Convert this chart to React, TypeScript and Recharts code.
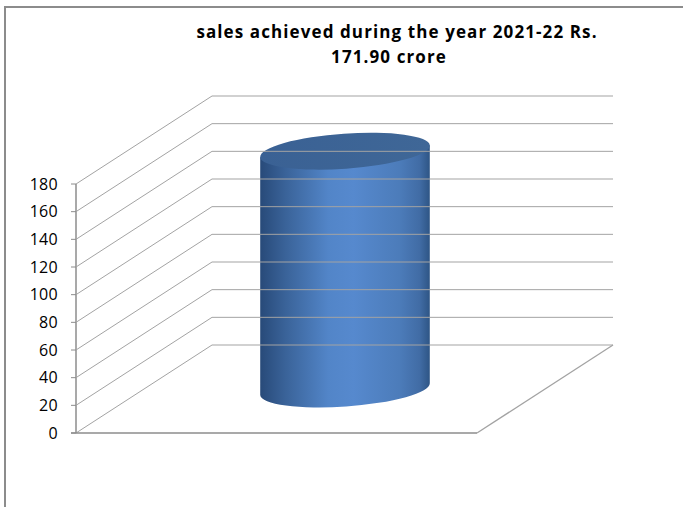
import React from "react";
import { BarChart, Bar, XAxis, YAxis } from "recharts";

const years = ["2021-22"];
const sales = [171.9];
const yTicks = [0, 20, 40, 60, 80, 100, 120, 140, 160, 180];
const titleLines = ["sales achieved during the year 2021-22 Rs.", "171.90 crore"];

const data = years.map((year, i) => ({ year, sales: sales[i] }));

// fake 3D: how far the back wall sits from the front plane
const PLOT_W = 401;
const DEPTH_X = 136;
const DEPTH_Y = -88;
const TILT = -4;
const GRID = "#a3a3a3";
const AXIS = "#8c8c8c";
const FONT = "'Open Sans', 'Liberation Sans', sans-serif";

function WallTick(props: any) {
  const { x, y, payload } = props;
  const ax = x + 18; // tickSize + tickMargin back to the axis line
  return (
    <g>
      <line x1={ax} y1={y} x2={ax + DEPTH_X} y2={y + DEPTH_Y} stroke={GRID} />
      <line
        x1={ax + DEPTH_X}
        y1={y + DEPTH_Y}
        x2={ax + DEPTH_X + PLOT_W}
        y2={y + DEPTH_Y}
        stroke={GRID}
      />
      {payload.value === 0 && (
        <>
          <line x1={ax - 5} y1={y} x2={ax + PLOT_W} y2={y} stroke={AXIS} strokeWidth={1.5} />
          <line
            x1={ax + PLOT_W}
            y1={y}
            x2={ax + PLOT_W + DEPTH_X}
            y2={y + DEPTH_Y}
            stroke={GRID}
            strokeWidth={1.3}
          />
        </>
      )}
      <text
        x={x}
        y={y}
        dy={5.5}
        textAnchor="end"
        fill="#000"
        fontSize={16}
        letterSpacing={0.3}
        fontFamily={FONT}
      >
        {payload.value}
      </text>
    </g>
  );
}

function Cylinder(props: any) {
  const { x, y, width, height } = props;
  const cx = x + width / 2 + DEPTH_X / 2;
  const rx = width / 2;
  const ry = 17.5;
  const topY = y + DEPTH_Y / 2;
  const botY = y + height + DEPTH_Y / 2;
  const t = (TILT * Math.PI) / 180;
  const ex = rx * Math.cos(t);
  const ey = rx * Math.sin(t);
  const side =
    `M ${cx - ex} ${topY - ey} L ${cx - ex} ${botY - ey} ` +
    `A ${rx} ${ry} ${TILT} 0 0 ${cx + ex} ${botY + ey} ` +
    `L ${cx + ex} ${topY + ey} Z`;
  return (
    <g>
      <defs>
        <linearGradient id="cylSide" x1="0" y1="0" x2="1" y2="0">
          <stop offset="0" stopColor="#284a79" />
          <stop offset="0.15" stopColor="#3a6399" />
          <stop offset="0.4" stopColor="#5285c8" />
          <stop offset="0.55" stopColor="#5689ce" />
          <stop offset="0.82" stopColor="#4c7cba" />
          <stop offset="0.94" stopColor="#416ca5" />
          <stop offset="1" stopColor="#2e5585" />
        </linearGradient>
        <linearGradient id="cylTop" x1="0" y1="0" x2="1" y2="0">
          <stop offset="0" stopColor="#3a6194" />
          <stop offset="1" stopColor="#3f6797" />
        </linearGradient>
      </defs>
      <path d={side} fill="url(#cylSide)" />
      <ellipse
        cx={cx}
        cy={topY}
        rx={rx}
        ry={ry}
        fill="url(#cylTop)"
        transform={`rotate(${TILT} ${cx} ${topY})`}
      />
    </g>
  );
}

const titleStyle: React.CSSProperties = {
  position: "absolute",
  width: 600,
  lineHeight: "22px",
  textAlign: "center",
  fontFamily: FONT,
  fontWeight: 700,
  fontSize: 17,
  letterSpacing: 1.1,
  color: "#000",
  whiteSpace: "nowrap",
};

export default function App() {
  return (
    <div style={{ position: "absolute", left: 0, top: 0, width: 683, height: 507, overflow: "hidden", background: "#fff" }}>
      <div
        style={{
          position: "absolute",
          left: 4,
          top: 6,
          width: 700,
          height: 520,
          borderLeft: "2px solid #8c8c8c",
          borderTop: "2px solid #8c8c8c",
        }}
      />
      <div style={{ ...titleStyle, left: 97, top: 21 }}>{titleLines[0]}</div>
      <div style={{ ...titleStyle, left: 89, top: 46 }}>{titleLines[1]}</div>
      <div style={{ position: "absolute", left: 0, top: 0 }}>
        <BarChart
          width={683}
          height={507}
          data={data}
          margin={{ top: 184, right: 206, bottom: 74, left: 16 }}
        >
          <XAxis dataKey="year" hide />
          <YAxis
            width={60}
            domain={[0, 180]}
            ticks={yTicks}
            interval={0}
            axisLine={{ stroke: AXIS, strokeWidth: 1.5 }}
            tickLine={{ stroke: AXIS }}
            tickSize={5}
            tickMargin={13}
            tick={<WallTick />}
          />
          <Bar dataKey="sales" barSize={170} shape={<Cylinder />} isAnimationActive={false} />
        </BarChart>
      </div>
    </div>
  );
}
